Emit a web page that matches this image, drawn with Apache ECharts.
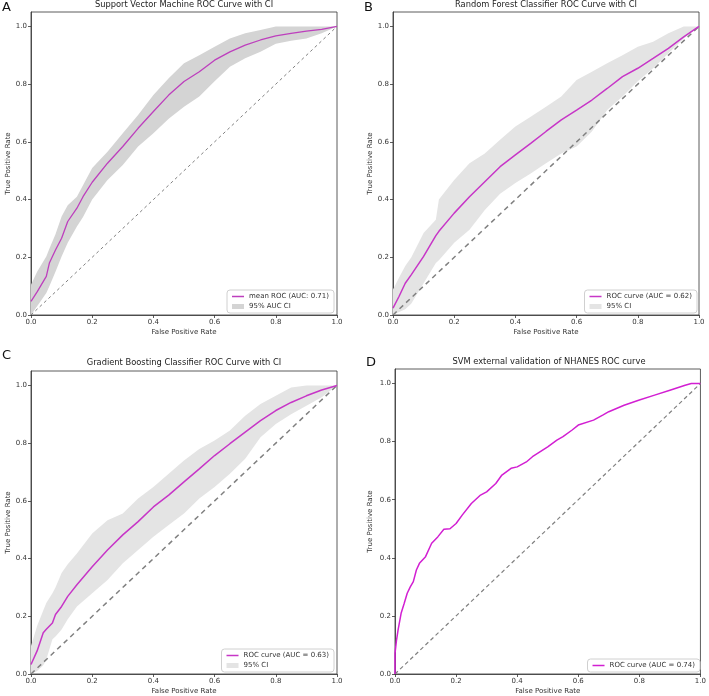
<!DOCTYPE html>
<html><head><meta charset="utf-8">
<script src="https://cdn.jsdelivr.net/npm/echarts@6/dist/echarts.min.js"></script>
<style>html,body{margin:0;padding:0;background:#fff}#c{width:709px;height:696px}</style>
</head><body><div id="c"></div>
<script>
// Panel A: SVM
const aX     = [0,0.02,0.05,0.06,0.08,0.1,0.12,0.15,0.17,0.2,0.25,0.3,0.35,0.4,0.45,0.5,0.55,0.6,0.65,0.7,0.75,0.8,0.85,0.9,0.95,1.0];
const aMean  = [0.047,0.08,0.134,0.18,0.225,0.266,0.324,0.37,0.41,0.46,0.526,0.584,0.647,0.705,0.762,0.809,0.843,0.883,0.912,0.935,0.953,0.967,0.976,0.984,0.99,1.0];
const aUpper = [0.105,0.15,0.203,0.23,0.28,0.341,0.38,0.41,0.45,0.509,0.566,0.63,0.693,0.762,0.82,0.872,0.90,0.93,0.958,0.976,0.988,1.0,1.0,1.0,1.0,1.0];
const aLower = [0.0,0.03,0.076,0.10,0.15,0.203,0.25,0.307,0.34,0.40,0.468,0.52,0.584,0.63,0.68,0.722,0.757,0.81,0.86,0.89,0.912,0.94,0.95,0.958,0.976,1.0];
// Panel B: Random Forest
const bX     = [0,0.02,0.04,0.06,0.1,0.14,0.15,0.2,0.25,0.3,0.35,0.4,0.45,0.5,0.55,0.6,0.65,0.7,0.75,0.8,0.85,0.9,0.95,1.0];
const bMean  = [0.024,0.065,0.11,0.14,0.203,0.275,0.29,0.353,0.41,0.462,0.514,0.555,0.595,0.636,0.676,0.71,0.745,0.785,0.826,0.855,0.889,0.924,0.964,1.0];
const bUpper = [0.088,0.13,0.17,0.2,0.284,0.33,0.40,0.468,0.526,0.56,0.607,0.653,0.687,0.722,0.757,0.814,0.843,0.872,0.90,0.93,0.947,0.976,1.0,1.0];
const bLower = [0.0,0.01,0.02,0.04,0.11,0.18,0.19,0.25,0.295,0.364,0.42,0.457,0.49,0.526,0.56,0.584,0.636,0.71,0.757,0.81,0.855,0.907,0.958,1.0];
// Panel C: Gradient Boosting
const cX     = [0,0.02,0.04,0.05,0.07,0.08,0.1,0.12,0.15,0.2,0.25,0.3,0.35,0.4,0.45,0.5,0.55,0.6,0.65,0.7,0.75,0.8,0.85,0.9,0.95,1.0];
const cMean  = [0.033,0.08,0.143,0.155,0.177,0.206,0.234,0.269,0.309,0.372,0.43,0.482,0.528,0.579,0.62,0.666,0.711,0.757,0.798,0.838,0.878,0.913,0.941,0.964,0.984,1.0];
const cUpper = [0.097,0.166,0.22,0.246,0.28,0.30,0.35,0.38,0.418,0.487,0.533,0.556,0.608,0.648,0.694,0.74,0.78,0.809,0.844,0.895,0.936,0.964,0.993,1.0,1.0,1.0];
const cLower = [0.0,0.01,0.03,0.05,0.12,0.13,0.154,0.19,0.234,0.28,0.326,0.384,0.43,0.476,0.516,0.556,0.608,0.648,0.694,0.746,0.82,0.866,0.9,0.93,0.959,1.0];
// Panel D: SVM external validation (NHANES)
const dX   = [0,0,0.005,0.01,0.02,0.03,0.04,0.05,0.06,0.07,0.08,0.1,0.12,0.14,0.16,0.18,0.2,0.22,0.25,0.28,0.3,0.33,0.35,0.38,0.4,0.43,0.45,0.5,0.53,0.55,0.58,0.6,0.65,0.68,0.7,0.75,0.8,0.85,0.9,0.95,0.97,1.0];
const dTpr = [0,0.071,0.117,0.151,0.209,0.243,0.278,0.30,0.318,0.358,0.381,0.404,0.45,0.472,0.498,0.50,0.518,0.547,0.587,0.616,0.627,0.656,0.685,0.708,0.713,0.73,0.748,0.782,0.805,0.817,0.84,0.857,0.874,0.891,0.903,0.925,0.943,0.96,0.977,0.994,1.0,1.0];

const ticks = [0,0.2,0.4,0.6,0.8,1.0];
const FONT = 'DejaVu Sans';
const zipXY = (xs, ys) => xs.map((x, i) => [x, ys[i]]);

const grids = [
  {left: 31, top: 12, width: 306, height: 303},
  {left: 393, top: 12, width: 306, height: 303},
  {left: 31, top: 371, width: 306, height: 304},
  {left: 395, top: 369, width: 308, height: 305}
];

function axes(i, yGap) {
  const common = {
    gridIndex: i, type: 'value', min: 0,
    axisLine: {show: true, lineStyle: {color: '#333', width: 0.8}},
    axisTick: {show: true, length: 3, lineStyle: {color: '#333', width: 0.8}, customValues: ticks},
    axisLabel: {fontSize: 7, color: '#333', fontFamily: FONT, margin: 4, customValues: ticks, formatter: v => v.toFixed(1)},
    splitLine: {show: false},
    nameLocation: 'middle',
    nameTextStyle: {fontSize: 7, color: '#333', fontFamily: FONT}
  };
  return {
    x: Object.assign({}, common, {max: 1, name: 'False Positive Rate', nameGap: 14}),
    y: Object.assign({}, common, {max: 1.05, name: 'True Positive Rate', nameGap: yGap})
  };
}
const yGaps = [19, 19, 19, 21];
const xAxes = [], yAxes = [];
for (let i = 0; i < 4; i++) { const a = axes(i, yGaps[i]); xAxes.push(a.x); yAxes.push(a.y); }

function band(name, idx, xs, lo, up, color) {
  return {
    name: name, type: 'custom', xAxisIndex: idx, yAxisIndex: idx, z: 1,
    data: xs.map((x, i) => [x, lo[i], up[i]]),
    itemStyle: {color: color},
    renderItem: function (params, api) {
      if (params.dataIndex !== 0) return null;
      const pts = [];
      for (let i = 0; i < xs.length; i++) pts.push(api.coord([xs[i], up[i]]));
      for (let i = xs.length - 1; i >= 0; i--) pts.push(api.coord([xs[i], lo[i]]));
      return {type: 'polygon', shape: {points: pts}, style: {fill: color, stroke: null}};
    }
  };
}
function curve(name, idx, xs, ys, color, w) {
  return {name: name, type: 'line', xAxisIndex: idx, yAxisIndex: idx, z: 3, symbol: 'none',
    data: zipXY(xs, ys), lineStyle: {color: color, width: w}, itemStyle: {color: color}};
}
function diag(idx, w, dash) {
  return {name: 'diag' + idx, type: 'line', xAxisIndex: idx, yAxisIndex: idx, z: 2, symbol: 'none', silent: true,
    data: [[0, 0], [1, 1]], lineStyle: {color: '#808080', width: w, type: dash}};
}

const bandA = '#d4d4d4', bandB = '#e4e4e4';
const series = [
  band('95% AUC CI', 0, aX, aLower, aUpper, bandA),
  diag(0, 1, [3, 3]),
  curve('mean ROC (AUC: 0.71)', 0, aX, aMean, '#bd3fbd', 1.3),
  band('95% CI', 1, bX, bLower, bUpper, bandB),
  diag(1, 1.5, [5, 4]),
  curve('ROC curve (AUC = 0.62)', 1, bX, bMean, '#c736c7', 1.5),
  band('95% CI ', 2, cX, cLower, cUpper, bandB),
  diag(2, 1.5, [5, 4]),
  curve('ROC curve (AUC = 0.63)', 2, cX, cMean, '#c736c7', 1.5),
  diag(3, 1.2, [4, 3]),
  curve('ROC curve (AUC = 0.74)', 3, dX, dTpr, '#d21fd2', 1.5)
];

const LINE_ICON = 'path://M0,0H16V2H0Z';
function legend(items, pos) {
  return Object.assign({
    orient: 'vertical', itemWidth: 12, itemHeight: 5, itemGap: 3,
    backgroundColor: 'rgba(255,255,255,0.85)', borderColor: '#d0d0d0', borderWidth: 1, borderRadius: 3,
    padding: [3, 5, 3, 5], selectedMode: false, symbolKeepAspect: true,
    textStyle: {fontSize: 7, color: '#333', fontFamily: FONT},
    data: items
  }, pos);
}
const legends = [
  legend([{name: 'mean ROC (AUC: 0.71)', icon: LINE_ICON}, {name: '95% AUC CI', icon: 'rect', itemStyle: {color: bandA}}], {right: 375, bottom: 383}),
  legend([{name: 'ROC curve (AUC = 0.62)', icon: LINE_ICON}, {name: '95% CI', icon: 'rect', itemStyle: {color: bandB}}], {right: 12, bottom: 383}),
  legend([{name: 'ROC curve (AUC = 0.63)', icon: LINE_ICON}, {name: '95% CI ', icon: 'rect', itemStyle: {color: bandB}}], {right: 375, bottom: 24}),
  legend([{name: 'ROC curve (AUC = 0.74)', icon: LINE_ICON}], {right: 9, bottom: 24})
];

const tStyle = {fontSize: 8.3, fontWeight: 'normal', color: '#222', fontFamily: FONT};
const lStyle = {fontSize: 13, fontWeight: 'normal', color: '#111', fontFamily: FONT};
const titles = [
  {text: 'Support Vector Machine ROC Curve with CI', left: 184, top: 1, textAlign: 'center', padding: 0, textStyle: tStyle},
  {text: 'Random Forest Classifier ROC Curve with CI', left: 546, top: 1, textAlign: 'center', padding: 0, textStyle: tStyle},
  {text: 'Gradient Boosting Classifier ROC Curve with CI', left: 184, top: 359, textAlign: 'center', padding: 0, textStyle: tStyle},
  {text: 'SVM external validation of NHANES ROC curve', left: 549, top: 358, textAlign: 'center', padding: 0, textStyle: tStyle},
  {text: 'A', left: 2, top: 1, padding: 0, textStyle: lStyle},
  {text: 'B', left: 364, top: 1, padding: 0, textStyle: lStyle},
  {text: 'C', left: 2, top: 349, padding: 0, textStyle: lStyle},
  {text: 'D', left: 366, top: 356, padding: 0, textStyle: lStyle}
];

const chart = echarts.init(document.getElementById('c'), null, {renderer: 'canvas'});
chart.setOption({
  animation: false,
  backgroundColor: '#fff',
  title: titles,
  legend: legends,
  grid: grids.map(g => Object.assign({show: true, borderColor: '#333', borderWidth: 0.8, backgroundColor: 'transparent', containLabel: false}, g)),
  xAxis: xAxes,
  yAxis: yAxes,
  series: series
});
</script></body></html>
